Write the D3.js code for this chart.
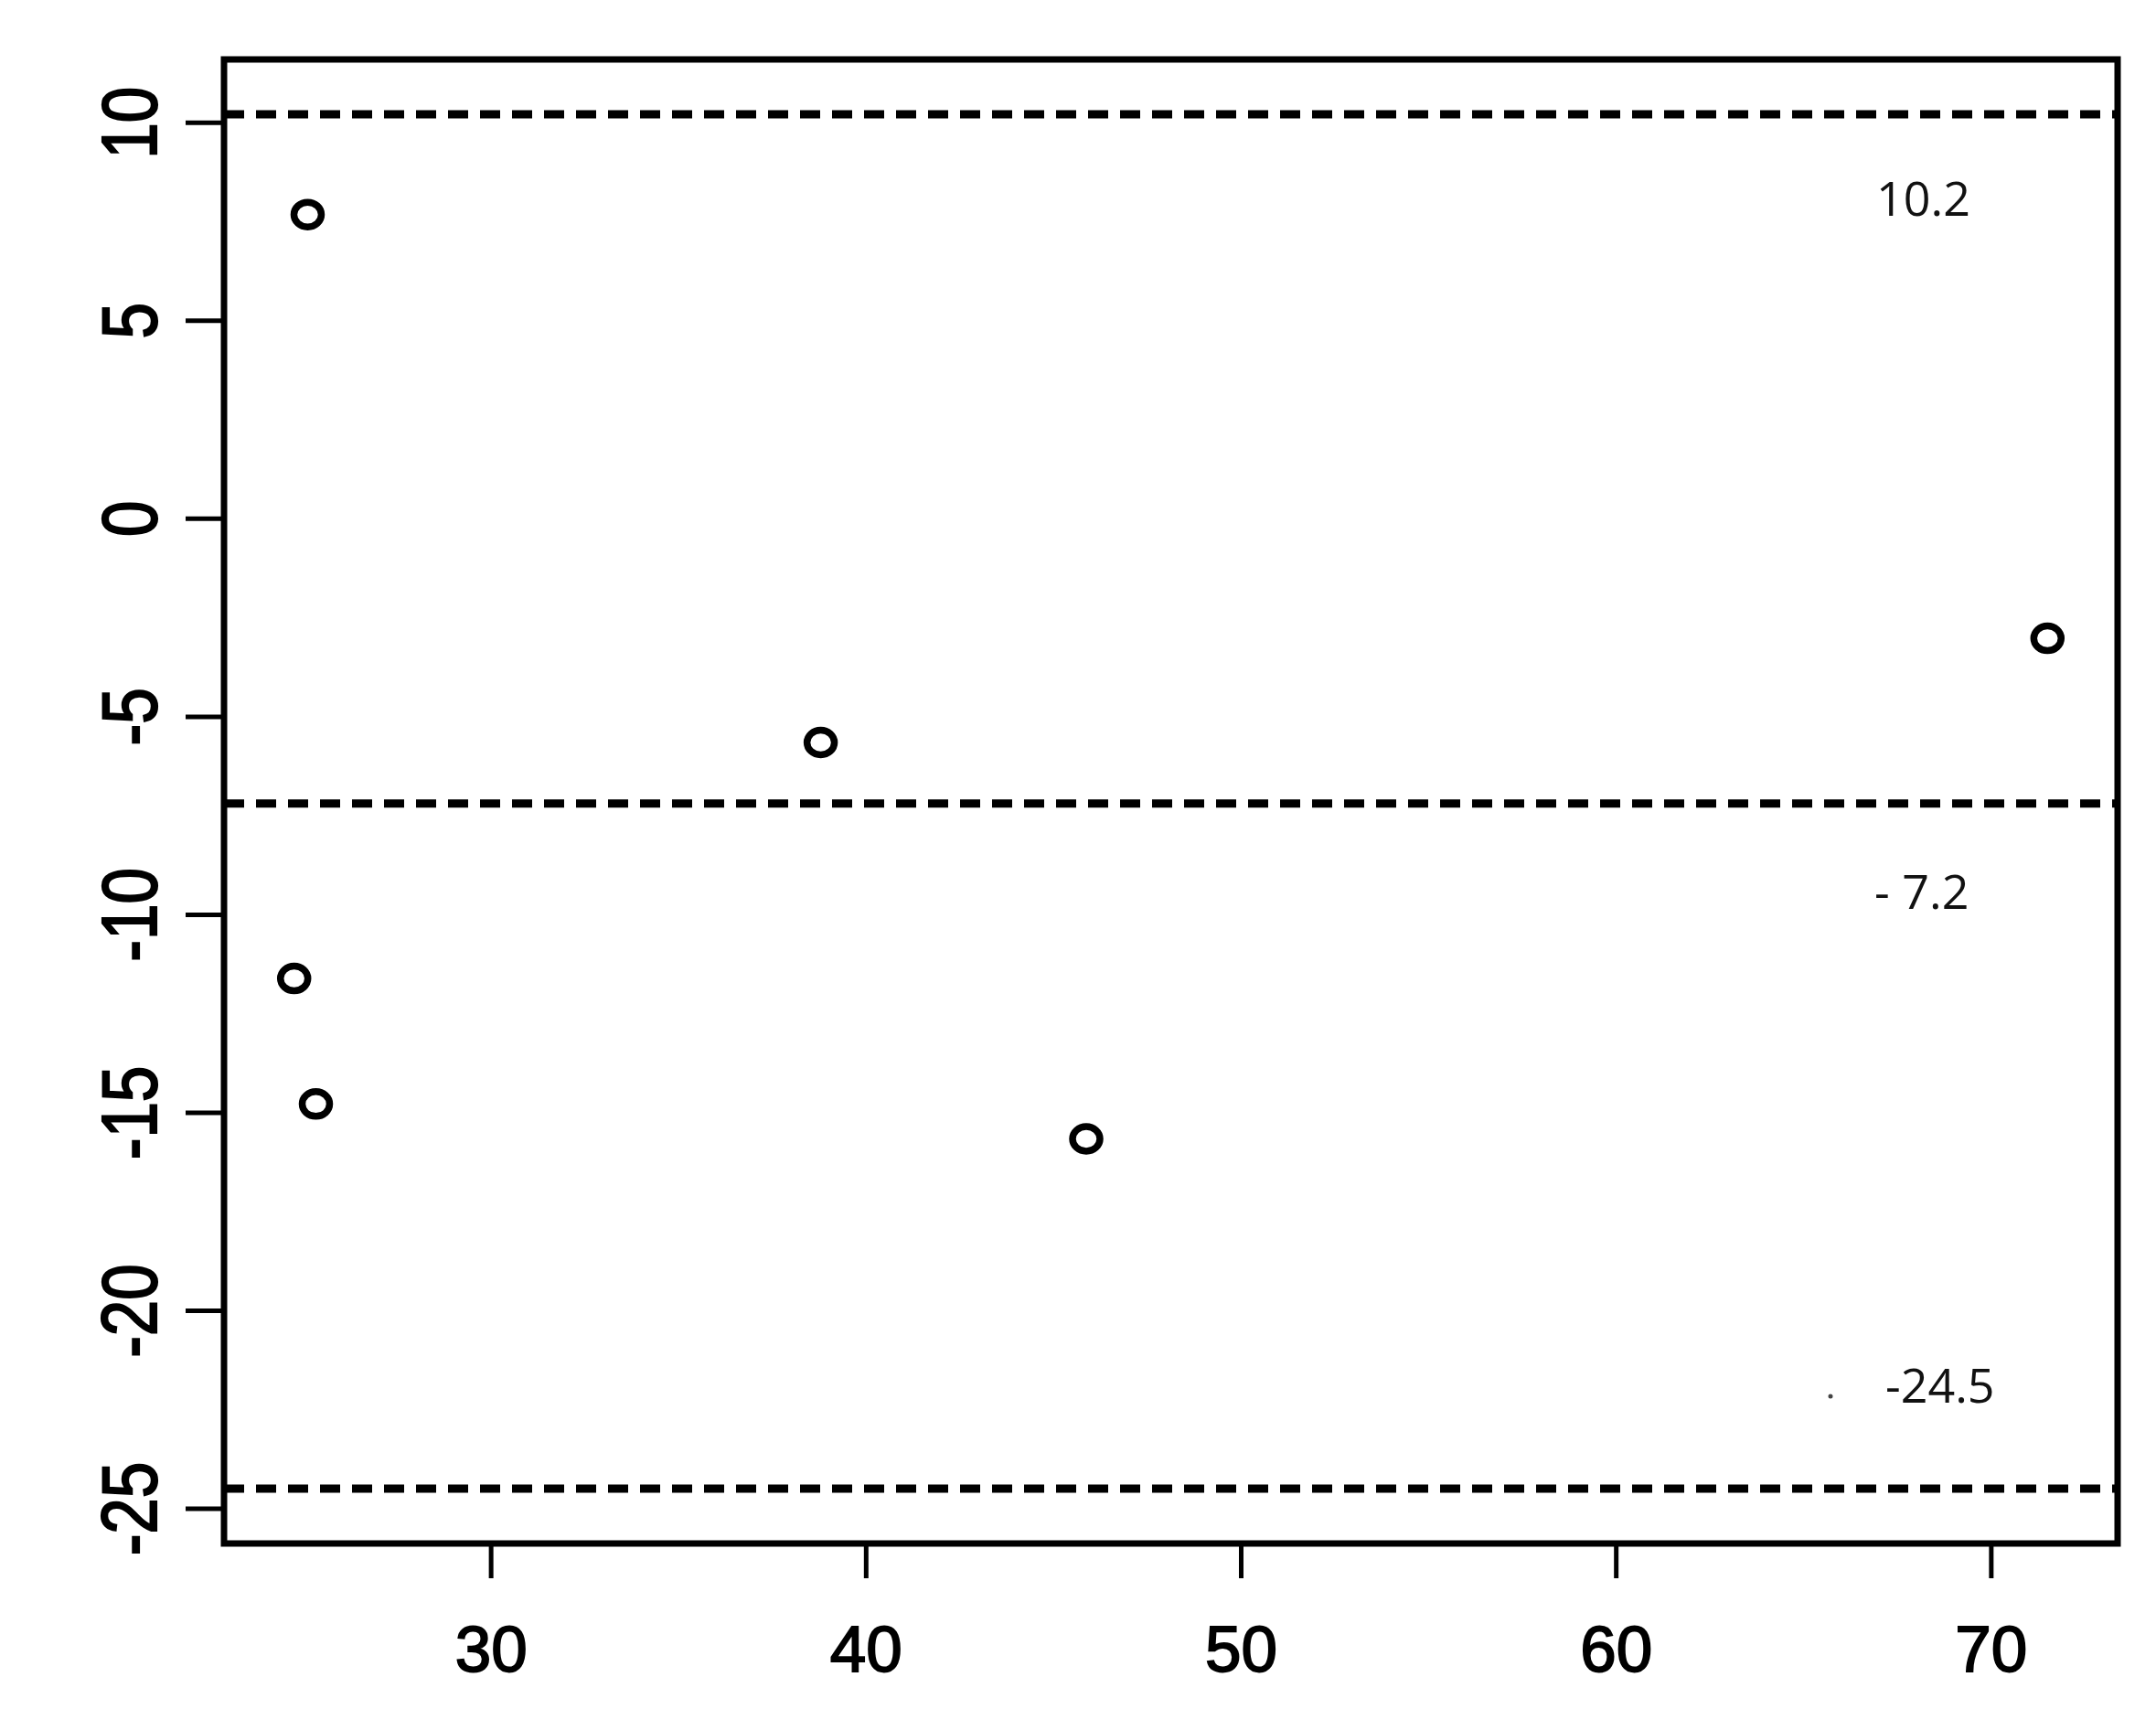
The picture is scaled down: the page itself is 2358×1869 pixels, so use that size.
<!DOCTYPE html>
<html>
<head>
<meta charset="utf-8">
<script src="https://cdn.jsdelivr.net/npm/d3@7.9.0/dist/d3.min.js"></script>
<style>
  html, body { margin: 0; padding: 0; background: #fff; }
  svg { display: block; }
  .tick-label { font-family: "Liberation Sans", Arial, sans-serif; font-size: 71px; fill: #000; stroke: #000; stroke-width: 1.8px; }
  .annot { font-family: "Open Sans", "Noto Sans", sans-serif; font-size: 52px; fill: #111; }
</style>
</head>
<body>
<svg id="chart" width="2358" height="1869"></svg>
<script>
// mean values on x, differences on y
const meanValues = [25.12, 24.76, 25.34, 38.80, 45.88, 71.51];
const diffValues = [7.67, -11.62, -14.79, -5.66, -15.67, -3.03];

// upper limit, bias, lower limit
const limitValues = [10.2, -7.2, -24.5];
const limitLabels = ['10.2', '- 7.2', '-24.5'];

const xTicks = [30, 40, 50, 60, 70];
const yTicks = [10, 5, 0, -5, -10, -15, -20, -25];

const width = 2358;
const height = 1869;
const box = { left: 245, right: 2316, top: 65, bottom: 1688 };

// R-style 4% padding around the data range
function padded(lo, hi) {
  const pad = (hi - lo) * 0.04;
  return [lo - pad, hi + pad];
}

const xExtent = d3.extent(meanValues);
const yExtent = d3.extent(diffValues.concat(limitValues));

const x = d3.scaleLinear().domain(padded(xExtent[0], xExtent[1])).range([box.left, box.right]);
const y = d3.scaleLinear().domain(padded(yExtent[0], yExtent[1])).range([box.bottom, box.top]);

const svg = d3.select('#chart');

svg.append('rect')
  .attr('width', width)
  .attr('height', height)
  .attr('fill', '#fff');

// dashed limit lines
svg.append('g')
  .selectAll('line')
  .data(limitValues)
  .join('line')
  .attr('x1', box.left)
  .attr('x2', box.right)
  .attr('y1', (d) => y(d))
  .attr('y2', (d) => y(d))
  .attr('stroke', '#000')
  .attr('stroke-width', 9)
  .attr('stroke-dasharray', '22 13');

// limit labels, offset from their line
const labelOffsets = [111, 115, -94];
const labelLeft = [2052, 2050, 2062];

svg.append('g')
  .selectAll('text')
  .data(limitLabels)
  .join('text')
  .attr('class', 'annot')
  .attr('x', (_, i) => labelLeft[i])
  .attr('y', (_, i) => y(limitValues[i]) + labelOffsets[i])
  .text((d) => d);

// stray dot next to the lower label
svg.append('circle')
  .attr('cx', 2002)
  .attr('cy', y(limitValues[2]) - 101)
  .attr('r', 2.5)
  .attr('fill', '#444');

// points
svg.append('g')
  .selectAll('ellipse')
  .data(meanValues)
  .join('ellipse')
  .attr('cx', (d) => x(d))
  .attr('cy', (_, i) => y(diffValues[i]))
  .attr('rx', 15)
  .attr('ry', 13.5)
  .attr('fill', 'none')
  .attr('stroke', '#000')
  .attr('stroke-width', 7.5);

// x axis
const xAxis = svg.append('g')
  .attr('transform', `translate(0,${box.bottom})`)
  .call(d3.axisBottom(x).tickValues(xTicks).tickSize(38).tickFormat((d) => String(d)));

xAxis.select('.domain').remove();
xAxis.selectAll('.tick line').attr('stroke', '#000').attr('stroke-width', 5);
xAxis.selectAll('.tick text')
  .attr('class', 'tick-label')
  .attr('y', 140)
  .attr('dy', 0)
  .attr('font-size', null)
  .attr('font-family', null);

// y axis, labels with a plain hyphen like R
const yAxis = svg.append('g')
  .attr('transform', `translate(${box.left},0)`)
  .call(d3.axisLeft(y).tickValues(yTicks).tickSize(42).tickFormat((d) => String(d)));

yAxis.select('.domain').remove();
yAxis.selectAll('.tick line').attr('stroke', '#000').attr('stroke-width', 5);
yAxis.selectAll('.tick text')
  .attr('class', 'tick-label')
  .attr('x', null)
  .attr('dy', null)
  .attr('font-size', null)
  .attr('font-family', null)
  .attr('text-anchor', 'middle')
  .attr('transform', 'translate(-100,0) scale(1.2,1) rotate(-90) translate(0,22)');

// plot box
svg.append('rect')
  .attr('x', box.left)
  .attr('y', box.top)
  .attr('width', box.right - box.left)
  .attr('height', box.bottom - box.top)
  .attr('fill', 'none')
  .attr('stroke', '#000')
  .attr('stroke-width', 7);
</script>
</body>
</html>
